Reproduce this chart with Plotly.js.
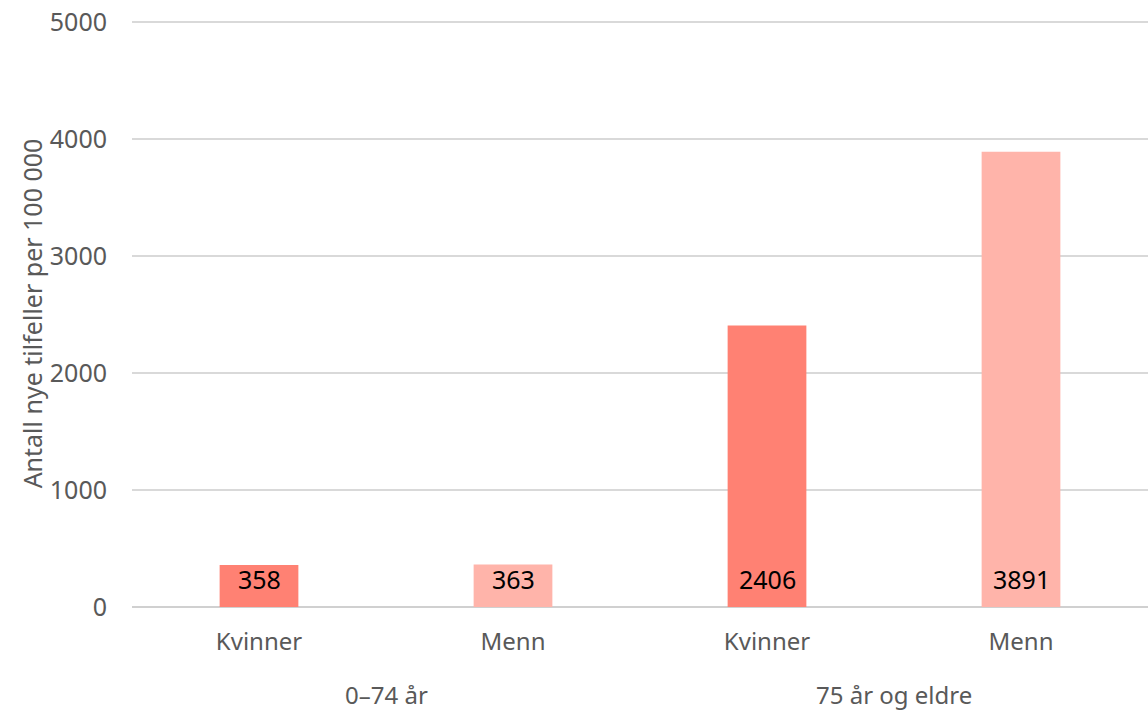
<!DOCTYPE html>
<html>
<head>
<meta charset="utf-8">
<script src="https://cdn.plot.ly/plotly-3.0.1.min.js"></script>
<style>html,body{margin:0;padding:0;background:#fff;}#chart{width:1148px;height:711px;}</style>
</head>
<body>
<div id="chart"></div>
<script>
const groups = ["0–74 år", "75 år og eldre"];
const groupOf = [0, 0, 1, 1];
const sexes = ["Kvinner", "Menn", "Kvinner", "Menn"];
const values = [358, 363, 2406, 3891];
const barColors = ["#FF8173", "#FFB4AA", "#FF8173", "#FFB4AA"];
const yTicks = [0, 1000, 2000, 3000, 4000, 5000];
const yTitle = "Antall nye tilfeller per 100 000";

const xs = sexes.map((_, i) => i);
const FONT = "Noto Sans, sans-serif";
const GREY = "#595959";

const trace = {
  type: "bar",
  x: xs,
  y: values,
  marker: {color: barColors},
  hoverinfo: "none"
};

const valueAnn = values.map((v, i) => ({
  x: xs[i], y: 0, xref: "x", yref: "y",
  text: String(v), showarrow: false,
  yanchor: "middle", yshift: 28,
  font: {family: FONT, size: 25, color: "#000000"}
}));

const groupAnn = groups.map((g, gi) => {
  const idx = xs.filter(i => groupOf[i] === gi);
  const cx = idx.reduce((a, b) => a + b, 0) / idx.length;
  return {
    x: cx, y: 0, xref: "x", yref: "y",
    text: g, showarrow: false,
    yanchor: "middle", yshift: -87,
    font: {family: FONT, size: 24, color: GREY}
  };
});

const layout = {
  width: 1148, height: 711,
  margin: {l: 132, r: 0, t: 20, b: 104},
  paper_bgcolor: "#ffffff", plot_bgcolor: "#ffffff",
  bargap: 0.69,
  showlegend: false,
  font: {family: FONT, color: GREY},
  xaxis: {
    range: [-0.5, 3.5],
    tickvals: xs,
    ticktext: sexes,
    showgrid: false,
    showline: false,
    zeroline: false,
    ticks: "",
    ticklabelstandoff: 18,
    tickfont: {size: 24, color: GREY}
  },
  yaxis: {
    range: [0, 5017],
    tickvals: yTicks,
    tickformat: "d",
    showgrid: true,
    gridcolor: "#D9D9D9",
    gridwidth: 1.5,
    zeroline: true,
    zerolinecolor: "#D0D0D0",
    zerolinewidth: 2,
    ticks: "",
    ticklabelstandoff: 24,
    tickfont: {size: 25, color: GREY},
    title: {text: yTitle, font: {size: 25, color: GREY}, standoff: 0}
  },
  annotations: valueAnn.concat(groupAnn)
};

Plotly.newPlot("chart", [trace], layout, {displayModeBar: false, staticPlot: true});
</script>
</body>
</html>
